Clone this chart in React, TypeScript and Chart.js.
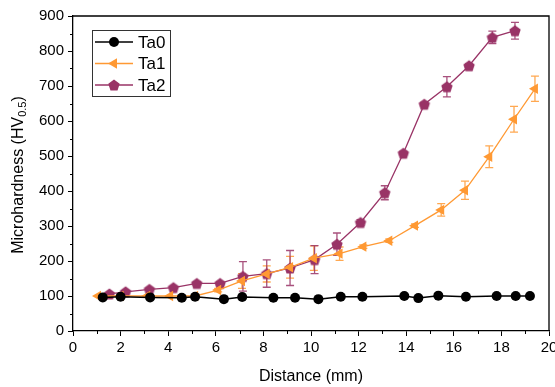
import React, { useEffect, useRef } from "react";
import { Chart, registerables } from "chart.js";
import { drawPoint } from "chart.js/helpers";

Chart.register(...registerables);

const seriesLabels = ["Ta0", "Ta1", "Ta2"];

const ta0X = [1.25, 2.0, 3.24, 4.57, 5.13, 6.34, 7.11, 8.42, 9.33, 10.31, 11.25, 12.16, 13.92, 14.51, 15.35, 16.51, 17.8, 18.6, 19.2];
const ta0Y = [96, 98, 96, 95, 98, 91, 97, 95, 95, 91, 98, 98, 100, 94, 101, 98, 100, 100, 100];

const ta1X = [1.05, 2.0, 3.12, 4.08, 5.13, 6.1, 7.1, 8.14, 9.12, 10.12, 11.2, 12.2, 13.29, 14.37, 15.47, 16.47, 17.49, 18.53, 19.41];
const ta1Y = [100, 100, 100, 100, 100, 117, 143, 163, 182, 208, 221, 241, 258, 301, 346, 402, 498, 605, 692];
const ta1Err = [0, 0, 0, 0, 3, 5, 21, 23, 31, 35, 19, 5, 5, 5, 18, 26, 31, 37, 36];

const ta2X = [1.53, 2.21, 3.21, 4.22, 5.2, 6.18, 7.14, 8.14, 9.12, 10.15, 11.09, 12.08, 13.1, 13.88, 14.76, 15.71, 16.64, 17.62, 18.57];
const ta2Y = [106, 112, 119, 124, 136, 136, 156, 164, 180, 204, 248, 310, 395, 508, 648, 698, 758, 839, 858];
const ta2Err = [3, 3, 3, 3, 4, 4, 42, 39, 50, 40, 32, 8, 20, 5, 5, 29, 5, 18, 24];

const xTickValues = [0, 2, 4, 6, 8, 10, 12, 14, 16, 18, 20];
const yTickValues = [0, 100, 200, 300, 400, 500, 600, 700, 800, 900];
const xMinorValues = [1, 3, 5, 7, 9, 11, 13, 15, 17, 19];
const yMinorValues = [50, 150, 250, 350, 450, 550, 650, 750, 850];

const FONT = "'Liberation Sans', Arial, Helvetica, sans-serif";
const BLACK = "#000000";
const ORANGE = "#FF9933";
const PURPLE = "#993366";

function makePentagon(color: string, r: number): HTMLCanvasElement {
  const c = document.createElement("canvas");
  const s = Math.ceil(r * 2 + 2);
  c.width = s;
  c.height = s;
  const ctx = c.getContext("2d")!;
  ctx.fillStyle = color;
  ctx.beginPath();
  for (let i = 0; i < 5; i++) {
    const a = -Math.PI / 2 + (i * 2 * Math.PI) / 5;
    const px = s / 2 + r * Math.cos(a);
    const py = s / 2 + 0.6 + r * Math.sin(a);
    if (i === 0) ctx.moveTo(px, py);
    else ctx.lineTo(px, py);
  }
  ctx.closePath();
  ctx.fill();
  return c;
}

const toPts = (xs: number[], ys: number[]) => xs.map((x, i) => ({ x, y: ys[i] }));

export default function App() {
  const ref = useRef<HTMLCanvasElement | null>(null);

  useEffect(() => {
    if (!ref.current) return;
    const pent = makePentagon(PURPLE, 6);
    const errs: (number[] | null)[] = [null, ta1Err, ta2Err];
    const errColors = ["", "rgba(255,153,51,0.85)", "rgba(153,51,102,0.85)"];

    const errorBars = {
      id: "errorBars",
      beforeDatasetsDraw(chart: any) {
        const ctx = chart.ctx;
        const xs = chart.scales.x;
        const ys = chart.scales.y;
        chart.data.datasets.forEach((ds: any, di: number) => {
          const e = errs[di];
          if (!e) return;
          ctx.save();
          ctx.strokeStyle = errColors[di];
          ctx.lineWidth = 1.3;
          ds.data.forEach((p: any, i: number) => {
            if (!e[i]) return;
            const px = xs.getPixelForValue(p.x);
            const top = ys.getPixelForValue(p.y + e[i]);
            const bot = ys.getPixelForValue(p.y - e[i]);
            ctx.beginPath();
            ctx.moveTo(px, top);
            ctx.lineTo(px, bot);
            ctx.moveTo(px - 4, top);
            ctx.lineTo(px + 4, top);
            ctx.moveTo(px - 4, bot);
            ctx.lineTo(px + 4, bot);
            ctx.stroke();
          });
          ctx.restore();
        });
      },
    };

    const frame = {
      id: "frame",
      afterDraw(chart: any) {
        const ctx = chart.ctx;
        const a = chart.chartArea;
        const xs = chart.scales.x;
        const ys = chart.scales.y;
        ctx.save();
        ctx.strokeStyle = BLACK;
        ctx.lineWidth = 1.3;
        ctx.beginPath();
        ctx.moveTo(a.left, a.top);
        ctx.lineTo(a.right, a.top);
        ctx.lineTo(a.right, a.bottom);
        ctx.stroke();
        ctx.lineWidth = 1;
        ctx.beginPath();
        xMinorValues.forEach((v) => {
          const px = Math.round(xs.getPixelForValue(v)) + 0.5;
          ctx.moveTo(px, a.bottom);
          ctx.lineTo(px, a.bottom + 3);
        });
        yMinorValues.forEach((v) => {
          const py = Math.round(ys.getPixelForValue(v)) + 0.5;
          ctx.moveTo(a.left, py);
          ctx.lineTo(a.left - 3, py);
        });
        ctx.stroke();

        // y-axis title with subscript
        ctx.fillStyle = BLACK;
        ctx.textBaseline = "middle";
        ctx.translate(19, 175);
        ctx.rotate(-Math.PI / 2);
        const mainFont = `16px ${FONT}`;
        const subFont = `11px ${FONT}`;
        ctx.font = mainFont;
        const w1 = ctx.measureText("Microhardness (HV").width;
        const w3 = ctx.measureText(")").width;
        ctx.font = subFont;
        const w2 = ctx.measureText("0.5").width;
        let x0 = -(w1 + w2 + w3) / 2;
        ctx.font = mainFont;
        ctx.fillText("Microhardness (HV", x0, 0);
        ctx.font = subFont;
        ctx.fillText("0.5", x0 + w1, 4);
        ctx.font = mainFont;
        ctx.fillText(")", x0 + w1 + w2, 0);
        ctx.restore();

        // legend
        ctx.save();
        ctx.strokeStyle = "#333";
        ctx.lineWidth = 1;
        ctx.strokeRect(92.5, 30.5, 78, 66);
        chart.data.datasets.forEach((ds: any, i: number) => {
          const y = 42 + i * 21.5;
          ctx.strokeStyle = ds.borderColor;
          ctx.lineWidth = 1.3;
          ctx.beginPath();
          ctx.moveTo(95, y);
          ctx.lineTo(133, y);
          ctx.stroke();
          ctx.fillStyle = ds.pointBackgroundColor;
          ctx.strokeStyle = ds.pointBorderColor;
          drawPoint(ctx, {
            pointStyle: ds.pointStyle,
            rotation: ds.pointRotation || 0,
            radius: ds.pointRadius,
            borderWidth: 0,
          } as any, 114, y);
          ctx.fillStyle = BLACK;
          ctx.font = `17px ${FONT}`;
          ctx.textBaseline = "middle";
          ctx.fillText(ds.label, 138, y + 1);
        });
        ctx.restore();
      },
    };

    const chart = new Chart(ref.current, {
      type: "line",
      data: {
        datasets: [
          {
            label: seriesLabels[0],
            data: toPts(ta0X, ta0Y),
            borderColor: BLACK,
            backgroundColor: BLACK,
            pointBackgroundColor: BLACK,
            pointBorderColor: BLACK,
            borderWidth: 1.5,
            pointStyle: "circle",
            pointRadius: 5,
            pointBorderWidth: 0,
          } as any,
          {
            label: seriesLabels[1],
            data: toPts(ta1X, ta1Y),
            borderColor: ORANGE,
            backgroundColor: ORANGE,
            pointBackgroundColor: ORANGE,
            pointBorderColor: ORANGE,
            borderWidth: 1.3,
            pointStyle: "triangle",
            pointRotation: -90,
            pointRadius: 6,
            pointBorderWidth: 0,
          },
          {
            label: seriesLabels[2],
            data: toPts(ta2X, ta2Y),
            borderColor: PURPLE,
            backgroundColor: PURPLE,
            pointBackgroundColor: PURPLE,
            pointBorderColor: PURPLE,
            borderWidth: 1.3,
            pointStyle: pent,
            pointRadius: 6,
            pointBorderWidth: 0,
          },
        ],
      },
      options: {
        animation: false,
        responsive: false,
        layout: { padding: { left: 0, top: 16, right: 6, bottom: 0 } },
        plugins: { legend: { display: false }, tooltip: { enabled: false } },
        scales: {
          x: {
            type: "linear",
            min: 0,
            max: 20,
            afterBuildTicks: (s: any) => {
              s.ticks = xTickValues.map((v) => ({ value: v }));
            },
            afterFit: (s: any) => {
              s.height = 56;
              s.paddingRight = 0;
              s.paddingLeft = 0;
            },
            grid: { drawOnChartArea: false, drawTicks: true, tickLength: 5, tickColor: BLACK, tickWidth: 1 },
            border: { display: true, color: BLACK, width: 1.3 },
            ticks: { color: BLACK, font: { family: FONT, size: 15 }, padding: 3, maxRotation: 0, autoSkip: false },
            title: {
              display: true,
              text: "Distance (mm)",
              color: BLACK,
              font: { family: FONT, size: 16 },
              padding: { top: 2, bottom: 1 },
            },
          },
          y: {
            type: "linear",
            min: 0,
            max: 900,
            afterBuildTicks: (s: any) => {
              s.ticks = yTickValues.map((v) => ({ value: v }));
            },
            afterFit: (s: any) => {
              s.width = 73;
            },
            grid: { drawOnChartArea: false, drawTicks: true, tickLength: 5, tickColor: BLACK, tickWidth: 1 },
            border: { display: true, color: BLACK, width: 1.3 },
            ticks: { color: BLACK, font: { family: FONT, size: 15 }, padding: 4, autoSkip: false },
          },
        },
      },
      plugins: [errorBars, frame],
    });
    return () => chart.destroy();
  }, []);

  return (
    <div style={{ position: "fixed", left: 0, top: 0, width: 555, height: 387, overflow: "hidden", background: "#fff" }}>
      <canvas ref={ref} width={555} height={387} style={{ display: "block", width: 555, height: 387 }} />
    </div>
  );
}
